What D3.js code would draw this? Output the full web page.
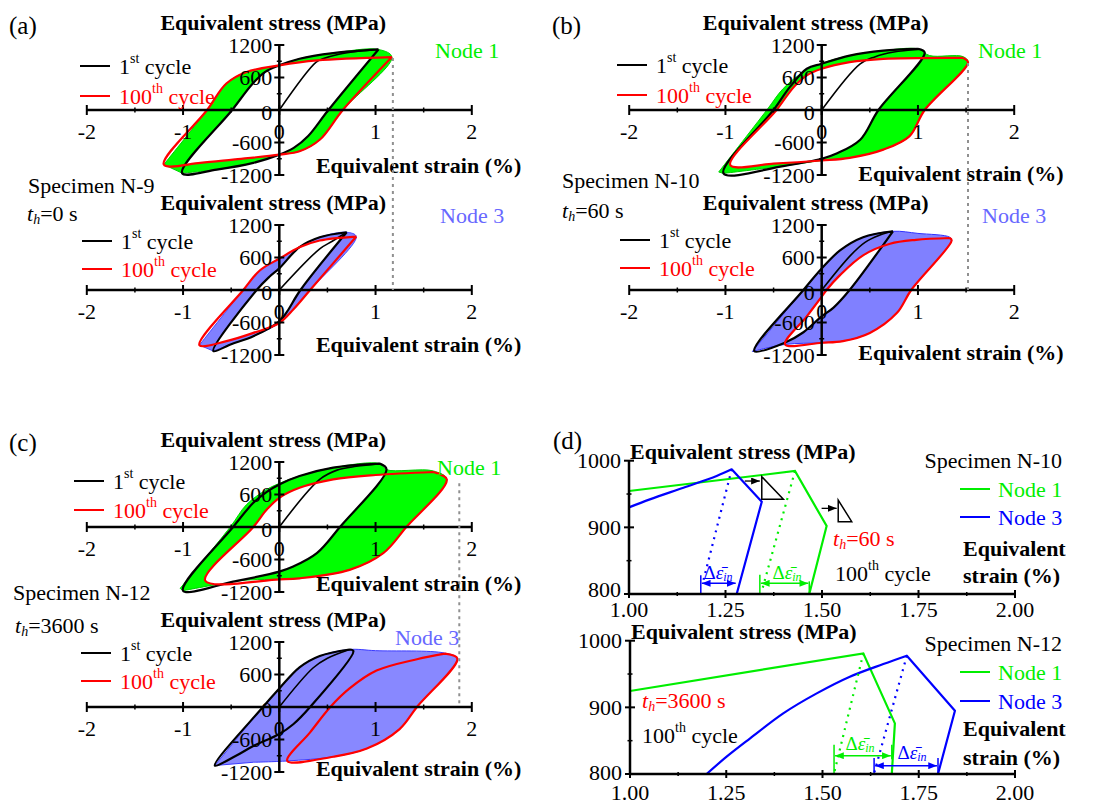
<!DOCTYPE html>
<html>
<head>
<meta charset="utf-8">
<title>Hysteresis loops</title>
<script src="https://cdn.jsdelivr.net/npm/d3@7"></script>
<style>
  body { margin: 0; background: #fff; }
</style>
</head>
<body>
<script>
// ---------- data: strain (%) / stress (MPa) ----------
var loopXTicks = [-2, -1, 0, 1, 2];
var loopYTicks = [-1200, -600, 0, 600, 1200];
var zoomXTicks = [1.00, 1.25, 1.50, 1.75, 2.00];
var zoomYTicks = [800, 900, 1000];

// (a) specimen N-9, node 1
var n9n1Load = [[0,0],[0.38,880],[0.46,950],[0.62,1030],[0.82,1085],[1.03,1118]];
var n9n1C1 = [[1.03,1118],[0.51,0],[0.30,-480],[0.15,-700],[0,-824],[-0.27,-977],[-0.65,-1100],[-1.01,-1165],
              [-0.49,0],[-0.28,480],[-0.15,700],[0,824],[0.21,947],[0.56,1050],[1.03,1118]];
var n9n1C100 = [[1.17,977],[0.66,0],[0.42,-550],[0.21,-763],[0,-824],[-0.48,-916],[-0.82,-977],[-1.2,-1008],
                [-0.75,0],[-0.55,489],[-0.34,702],[0,824],[0.39,916],[1.17,977]];
var n9n1Band = [[-1.2,-1008],[-0.75,0],[-0.55,489],[-0.34,702],[0,824],[0.21,947],[0.56,1050],[1.03,1118],
                [1.17,977],[0.66,0],[0.42,-550],[0.21,-763],[0,-824],[-0.27,-977],[-0.65,-1100],[-1.01,-1165]];

// (a) specimen N-9, node 3
var n9n3Load = [[0,0],[0.42,760],[0.55,900],[0.70,1066]];
var n9n3C1 = [[0.70,1066],[0.22,0],[0.08,-400],[0,-580],[-0.27,-853],[-0.5,-1000],[-0.685,-1127],
              [-0.235,0],[-0.1,250],[0,400],[0.21,792],[0.42,974],[0.70,1066]];
var n9n3C100 = [[0.80,987],[0.32,0],[0.15,-350],[0,-609],[-0.27,-792],[-0.55,-944],[-0.83,-1017],
                [-0.374,0],[-0.2,365],[0,579],[0.215,792],[0.42,914],[0.80,987]];
var n9n3Band = [[-0.83,-1017],[-0.374,0],[-0.2,365],[0,579],[0.215,792],[0.42,974],[0.70,1066],[0.80,987],
                [0.32,0],[0.15,-350],[0,-609],[-0.27,-853],[-0.5,-1000],[-0.685,-1127]];

// (b) specimen N-10, node 1
var n10n1Load = [[0,0],[0.40,853],[0.55,980],[0.75,1070],[1.0,1122]];
var n10n1C1 = [[1.0,1127],[1.07,1060],[0.59,0],[0.40,-548],[0.155,-804],[0,-901],[-0.4,-1035],[-1.02,-1170],
               [-0.5,0],[-0.33,426],[-0.155,761],[0,853],[0.29,1005],[0.64,1096],[1.0,1127]];
var n10n1C100 = [[1.47,962],[1.52,880],[1.07,0],[0.91,-487],[0.64,-731],[0.29,-883],[0,-932],[-0.5,-990],[-0.95,-1017],
                 [-0.47,0],[-0.29,426],[-0.155,640],[0,761],[0.29,883],[0.64,944],[1.47,962]];
var n10n1Band = [[-1.07,-1145],[-0.57,0],[-0.40,396],[-0.19,700],[0,860],[0.29,1005],[0.64,1096],[1.0,1127],
                 [1.12,1005],[1.47,985],[1.52,880],[1.07,0],[0.91,-487],[0.64,-731],[0.29,-883],[0,-932],
                 [-0.4,-1035],[-1.02,-1170]];

// (b) specimen N-10, node 3
var n10n3Load = [[0,0],[0.30,640],[0.45,880],[0.60,1010],[0.74,1084]];
var n10n3C1 = [[0.74,1084],[0.29,0],[0.12,-330],[0,-487],[-0.19,-780],[-0.38,-970],[-0.7,-1127],
               [-0.19,0],[0,396],[0.19,731],[0.43,974],[0.74,1084]];
var n10n3C100 = [[1.33,960],[1.35,915],[0.93,0],[0.78,-426],[0.5,-792],[0.22,-944],[0,-974],[-0.38,-1005],
                 [-0.155,-487],[0,-122],[0.05,0],[0.19,274],[0.43,640],[0.71,853],[0.98,926],[1.33,960]];
var n10n3Band = [[-0.72,-1135],[-0.19,0],[0,396],[0.19,731],[0.43,974],[0.74,1084],[1.0,1045],[1.33,975],
                 [1.35,915],[0.93,0],[0.78,-426],[0.5,-792],[0.22,-944],[0,-974],[-0.38,-1005],[-0.7,-1127]];

// (c) specimen N-12, node 1
var n12n1Load = [[0,0],[0.42,879],[0.6,1050],[0.8,1120],[1.045,1170]];
var n12n1C1 = [[1.045,1170],[1.114,1065],[0.63,0],[0.39,-483],[0.145,-730],[0,-823],[-0.48,-1009],[-1.0,-1176],
               [-0.48,0],[-0.27,446],[-0.13,650],[0,786],[0.21,941],[0.56,1096],[1.045,1170]];
var n12n1C100 = [[1.6,1015],[1.74,879],[1.32,0],[1.08,-483],[0.73,-792],[0.21,-947],[0,-966],[-0.77,-990],
                 [-0.27,0],[-0.13,322],[0,539],[0.21,724],[0.56,879],[1.0,960],[1.6,1015]];
var n12n1Band = [[-1.03,-1133],[-0.51,0],[-0.34,415],[-0.13,693],[0,805],[0.21,941],[0.56,1096],[1.045,1170],
                 [1.11,1060],[1.6,1035],[1.74,879],[1.32,0],[1.08,-483],[0.73,-792],[0.21,-947],[0,-966],
                 [-0.3,-975],[-0.48,-1009],[-1.0,-1176]];

// (c) specimen N-12, node 3
var n12n3Load = [[0,0],[0.35,720],[0.5,900],[0.73,1062]];
var n12n3C1 = [[0.73,1062],[0.77,1032],[0.32,0],[0.145,-318],[0,-498],[-0.27,-720],[-0.45,-900],[-0.67,-1080],
               [-0.17,0],[0,342],[0.21,732],[0.42,942],[0.73,1062]];
var n12n3C100 = [[1.72,984],[1.85,894],[1.43,0],[1.25,-408],[0.91,-768],[0.56,-918],[0.083,-996],
                 [0.32,-468],[0.53,0],[0.73,342],[1.01,672],[1.43,882],[1.72,984]];
var n12n3Band = [[-0.67,-1080],[-0.17,0],[0,342],[0.21,732],[0.42,942],[0.73,1062],[1.0,1040],[1.72,995],
                 [1.85,894],[1.43,0],[1.25,-408],[0.91,-768],[0.56,-918],[0.083,-996],[-0.27,-1020]];

// max strain guide lines (strain, stress where it starts on the upper plot)
var guideStrain = [1.18, 1.52, 1.87];
var guideStress = [960, 870, 810];

// (d) 100th cycle close-up, N-10
var d10Node1 = [[1.0,954.5],[1.43,984.5],[1.512,902],[1.467,800]];
var d10Node1Dot = [[1.43,984.5],[1.346,808.5]];
var d10Node3 = [[1.0,930],[1.054,942],[1.141,959.5],[1.227,977],[1.266,987],[1.344,938.5],[1.279,800]];
var d10Node3Dot = [[1.266,987],[1.193,821]];
var d10Node1Arrow = [1.339, 1.467, 816];
var d10Node3Arrow = [1.186, 1.279, 816];

// (d) 100th cycle close-up, N-12
var d12Node1 = [[1.0,924.5],[1.606,981],[1.688,876],[1.68,800]];
var d12Node1Dot = [[1.606,981],[1.53,801]];
var d12Node3 = [[1.199,800],[1.251,826],[1.312,853.5],[1.398,891],[1.485,921],[1.571,946],[1.658,965],
                [1.719,977.5],[1.844,895],[1.80,800]];
var d12Node3Dot = [[1.719,977.5],[1.634,801]];
var d12Node1Arrow = [1.53, 1.68, 827.5];
var d12Node3Arrow = [1.634, 1.80, 812.5];

// ---------- drawing ----------
var width = 1099, height = 805;
var GREEN = "#00ee00", BLUE = "#0000ff";
var FONT = "'Liberation Serif', Tinos, 'Times New Roman', 'DejaVu Serif', serif";

var svg = d3.select("body").append("svg")
    .attr("width", width)
    .attr("height", height)
    .attr("font-family", FONT);

var defs = svg.append("defs");
[["g", GREEN], ["b", BLUE], ["k", "#000"]].forEach(function (m) {
    defs.append("marker")
        .attr("id", "arr" + m[0])
        .attr("viewBox", "0 0 10 8")
        .attr("refX", 10).attr("refY", 4)
        .attr("markerWidth", 9).attr("markerHeight", 7)
        .attr("markerUnits", "userSpaceOnUse")
        .attr("orient", "auto-start-reverse")
        .append("path").attr("d", "M0,0L10,4L0,8Z").attr("fill", m[1]);
});

function label(g, x, y, str, opt) {
    opt = opt || {};
    return g.append("text")
        .attr("x", x).attr("y", y)
        .attr("dominant-baseline", "central")
        .attr("text-anchor", opt.anchor || "start")
        .attr("font-family", FONT)
        .attr("font-size", opt.size || 22)
        .attr("font-weight", opt.bold ? "bold" : "normal")
        .attr("fill", opt.color || "#000")
        .text(str);
}

// "1st cycle" style text
function supLabel(g, x, y, a, sup, b, color) {
    var t = label(g, x, y, "", {color: color});
    t.append("tspan").text(a);
    t.append("tspan").attr("font-size", 14).attr("dy", -8).text(sup);
    t.append("tspan").attr("dy", 8).text(b);
    return t;
}

// "t_h=60 s"
function thLabel(g, x, y, rest, color) {
    var t = label(g, x, y, "", {color: color});
    t.append("tspan").attr("font-style", "italic").text("t");
    t.append("tspan").attr("font-style", "italic").attr("font-size", 14).attr("dy", 6).text("h");
    t.append("tspan").attr("dy", -6).text(rest);
    return t;
}

function deltaLabel(g, x, y, color) {
    var t = label(g, x, y, "", {color: color, anchor: "middle", size: 19});
    t.append("tspan").text("\u0394");
    t.append("tspan").attr("font-style", "italic").text("\u03b5\u0304");
    t.append("tspan").attr("font-style", "italic").attr("font-size", 12).attr("dy", 5).text("in");
    return t;
}

var loopPlots = [
    {x0: 279.3, y0: 110, load: n9n1Load, c1: n9n1C1, c100: n9n1C100, band: n9n1Band, fill: "#00ff00", edge: "#00d000",
     node: "Node 1", nodeColor: GREEN, nodeX: 435, nodeY: 50, legX: 80, legY: [66, 96], strainDy: 55},
    {x0: 279.3, y0: 290, load: n9n3Load, c1: n9n3C1, c100: n9n3C100, band: n9n3Band, fill: "#8080ff", edge: "#4848ff",
     node: "Node 3", nodeColor: "#6868ff", nodeX: 440, nodeY: 215, legX: 82, legY: [241, 269], strainDy: 54},
    {x0: 821.7, y0: 110, load: n10n1Load, c1: n10n1C1, c100: n10n1C100, band: n10n1Band, fill: "#00ff00", edge: "#00d000",
     node: "Node 1", nodeColor: GREEN, nodeX: 978, nodeY: 50, legX: 617, legY: [65, 95], strainDy: 63},
    {x0: 821.7, y0: 290, load: n10n3Load, c1: n10n3C1, c100: n10n3C100, band: n10n3Band, fill: "#8080ff", edge: "#3030ff",
     node: "Node 3", nodeColor: "#6868ff", nodeX: 982, nodeY: 215, legX: 620, legY: [240, 268], strainDy: 62},
    {x0: 279.3, y0: 527, load: n12n1Load, c1: n12n1C1, c100: n12n1C100, band: n12n1Band, fill: "#00ff00", edge: "#00d000",
     node: "Node 1", nodeColor: GREEN, nodeX: 437, nodeY: 467, legX: 74, legY: [481, 510], strainDy: 56},
    {x0: 279.3, y0: 707, load: n12n3Load, c1: n12n3C1, c100: n12n3C100, band: n12n3Band, fill: "#8888ff", edge: "#3a3aff",
     node: "Node 3", nodeColor: "#6868ff", nodeX: 395, nodeY: 637, legX: 81, legY: [653, 681], strainDy: 61}
];

var scales = [];

loopPlots.forEach(function (p, i) {
    var g = svg.append("g");
    var x = d3.scaleLinear().domain([-2, 2]).range([p.x0 - 192.5, p.x0 + 192.5]);
    var y = d3.scaleLinear().domain([-1200, 1200]).range([p.y0 + 65, p.y0 - 65]);
    scales.push({x: x, y: y});
    var line = d3.line()
        .x(function (d) { return x(d[0]); })
        .y(function (d) { return y(d[1]); })
        .curve(d3.curveCatmullRom.alpha(0.5));

    // band swept by cycles 1..100
    g.append("path")
        .attr("d", line(p.band) + "Z")
        .attr("fill", p.fill)
        .attr("stroke", p.edge)
        .attr("stroke-width", 1);

    // region never left by any cycle -> white
    var cid = "clip" + i;
    g.append("clipPath").attr("id", cid)
        .append("path").attr("d", line(p.c1) + "Z");
    g.append("path")
        .attr("d", line(p.c100) + "Z")
        .attr("fill", "#fff")
        .attr("clip-path", "url(#" + cid + ")");

    g.append("path").attr("d", line(p.load))
        .attr("fill", "none").attr("stroke", "#000").attr("stroke-width", 1.6);
    g.append("path").attr("d", line(p.c1))
        .attr("fill", "none").attr("stroke", "#000").attr("stroke-width", 2.2).attr("stroke-linejoin", "round");
    g.append("path").attr("d", line(p.c100))
        .attr("fill", "none").attr("stroke", "#ff0000").attr("stroke-width", 2.2).attr("stroke-linejoin", "round");

    // axes through the origin
    var ax = g.append("g").attr("stroke", "#000");
    ax.append("line").attr("x1", x(-2)).attr("x2", x(2)).attr("y1", y(0)).attr("y2", y(0)).attr("stroke-width", 2.5);
    ax.append("line").attr("x1", x(0)).attr("x2", x(0)).attr("y1", y(-1200)).attr("y2", y(1200)).attr("stroke-width", 2.5);
    loopXTicks.forEach(function (t) {
        ax.append("line").attr("x1", x(t)).attr("x2", x(t)).attr("y1", y(0) - 5).attr("y2", y(0) + 5).attr("stroke-width", 2);
    });
    [-1.5, -0.5, 0.5, 1.5].forEach(function (t) {
        ax.append("line").attr("x1", x(t)).attr("x2", x(t)).attr("y1", y(0) - 2.5).attr("y2", y(0) + 2.5).attr("stroke-width", 1.5);
    });
    loopYTicks.forEach(function (t) {
        ax.append("line").attr("x1", x(0) - 5).attr("x2", x(0) + 5).attr("y1", y(t)).attr("y2", y(t)).attr("stroke-width", 2);
    });
    [-900, -300, 300, 900].forEach(function (t) {
        ax.append("line").attr("x1", x(0) - 2.5).attr("x2", x(0) + 2.5).attr("y1", y(t)).attr("y2", y(t)).attr("stroke-width", 1.5);
    });
    loopXTicks.forEach(function (t) {
        label(g, x(t), y(0) + 21, String(t), {anchor: "middle"});
    });
    loopYTicks.forEach(function (t) {
        label(g, x(0) - 7, y(t) + (t === 0 ? 2 : 0), String(t), {anchor: "end"});
    });

    label(g, x(0) - 6, p.y0 - 88, "Equivalent stress (MPa)", {anchor: "middle", bold: true});
    label(g, p.x0 + 242, p.y0 + p.strainDy, "Equivalent strain (%)", {anchor: "end", bold: true});
    label(g, p.nodeX, p.nodeY, p.node, {color: p.nodeColor});

    // legend
    g.append("line").attr("x1", p.legX).attr("x2", p.legX + 30).attr("y1", p.legY[0]).attr("y2", p.legY[0])
        .attr("stroke", "#000").attr("stroke-width", 2);
    g.append("line").attr("x1", p.legX).attr("x2", p.legX + 30).attr("y1", p.legY[1]).attr("y2", p.legY[1])
        .attr("stroke", "#ff0000").attr("stroke-width", 2);
    supLabel(g, p.legX + 39, p.legY[0], "1", "st", " cycle", "#000");
    supLabel(g, p.legX + 39, p.legY[1], "100", "th", " cycle", "#ff0000");
});

// dashed guide lines for the max strain of the 100th cycle
guideStrain.forEach(function (s, k) {
    var top = scales[2 * k], bot = scales[2 * k + 1];
    svg.append("line")
        .attr("x1", top.x(s)).attr("x2", top.x(s))
        .attr("y1", top.y(guideStress[k])).attr("y2", bot.y(0))
        .attr("stroke", "#909090").attr("stroke-width", 2).attr("stroke-dasharray", "3,4");
});

// panel letters and specimen notes
label(svg, 9, 25, "(a)", {size: 25});
label(svg, 552, 25, "(b)", {size: 25});
label(svg, 9, 442, "(c)", {size: 25});
label(svg, 553, 440, "(d)", {size: 25});
label(svg, 28, 185, "Specimen N-9");
thLabel(svg, 27, 213, "=0 s", "#000");
label(svg, 562, 180, "Specimen N-10");
thLabel(svg, 562, 210, "=60 s", "#000");
label(svg, 13, 592, "Specimen N-12");
thLabel(svg, 15, 625, "=3600 s", "#000");

// ---------- panel (d) ----------
var zoomPlots = [
    {x0: 629, x1: 1015, yb: 594, yt: 460.7, n1: d10Node1, n1d: d10Node1Dot, n3: d10Node3, n3d: d10Node3Dot,
     a1: d10Node1Arrow, a3: d10Node3Arrow, spec: "Specimen N-10", specY: 460, legY: [489, 517],
     th: "=60 s", thX: 833, thY: 538, cyX: 835, cyY: 573, eqY: [548, 575], tickDy: 15, lowDy: 5,
     bars: [[1.186, 801, 828], [1.339, 801, 829], [1.467, 801, 819]],
     d3x: 718, d1x: 787, dy3: 572, dy1: 572},
    {x0: 630, x1: 1015, yb: 774, yt: 640.7, n1: d12Node1, n1d: d12Node1Dot, n3: d12Node3, n3d: d12Node3Dot,
     a1: d12Node1Arrow, a3: d12Node3Arrow, spec: "Specimen N-12", specY: 643, legY: [672, 701],
     th: "=3600 s", thX: 642, thY: 700, cyX: 642, cyY: 735, eqY: [728, 757], tickDy: 18, lowDy: 2,
     bars: [[1.53, 801, 844], [1.68, 822, 844], [1.634, 801, 824], [1.80, 801, 824]],
     d3x: 912, d1x: 860, dy3: 752, dy1: 743}
];

function peakSplit(arr) {
    var k = d3.maxIndex(arr, function (d) { return d[1]; });
    return [arr.slice(0, k + 1), arr.slice(k)];
}

zoomPlots.forEach(function (p, i) {
    var g = svg.append("g");
    var x = d3.scaleLinear().domain([1, 2]).range([p.x0, p.x1]);
    var y = d3.scaleLinear().domain([800, 1000]).range([p.yb, p.yt]);
    var line = d3.line().x(function (d) { return x(d[0]); }).y(function (d) { return y(d[1]); });
    var smooth = d3.line().x(function (d) { return x(d[0]); }).y(function (d) { return y(d[1]); })
        .curve(d3.curveCatmullRom.alpha(0.5));

    g.append("path").attr("d", line(p.n1)).attr("fill", "none").attr("stroke", GREEN).attr("stroke-width", 2.2);
    var parts = peakSplit(p.n3);
    g.append("path").attr("d", smooth(parts[0]) + line(parts[1]).replace(/^M/, "L"))
        .attr("fill", "none").attr("stroke", BLUE).attr("stroke-width", 2.2).attr("stroke-linejoin", "round");
    g.append("path").attr("d", line(p.n1d)).attr("fill", "none").attr("stroke", GREEN).attr("stroke-width", 2.2)
        .attr("stroke-dasharray", "2,5");
    g.append("path").attr("d", line(p.n3d)).attr("fill", "none").attr("stroke", BLUE).attr("stroke-width", 2.2)
        .attr("stroke-dasharray", "2,5");

    // inelastic strain range arrows
    [[p.a1, GREEN, "g"], [p.a3, BLUE, "b"]].forEach(function (a) {
        g.append("line")
            .attr("x1", x(a[0][0]) + 1).attr("x2", x(a[0][1]) - 1)
            .attr("y1", y(a[0][2])).attr("y2", y(a[0][2]))
            .attr("stroke", a[1]).attr("stroke-width", 1.5)
            .attr("marker-start", "url(#arr" + a[2] + ")")
            .attr("marker-end", "url(#arr" + a[2] + ")");
    });
    p.bars.forEach(function (b, k) {
        var c = (i === 0) ? (k === 0 ? BLUE : GREEN) : (k < 2 ? GREEN : BLUE);
        g.append("line").attr("x1", x(b[0])).attr("x2", x(b[0])).attr("y1", y(b[1])).attr("y2", y(b[2]))
            .attr("stroke", c).attr("stroke-width", 1.5);
    });
    deltaLabel(g, p.d3x, p.dy3, BLUE);
    deltaLabel(g, p.d1x, p.dy1, GREEN);

    // axes
    var ax = g.append("g").attr("stroke", "#000");
    ax.append("line").attr("x1", x(1)).attr("x2", x(2)).attr("y1", y(800)).attr("y2", y(800)).attr("stroke-width", 2.5);
    ax.append("line").attr("x1", x(1)).attr("x2", x(1)).attr("y1", y(800)).attr("y2", y(1000)).attr("stroke-width", 2.5);
    zoomXTicks.forEach(function (t) {
        ax.append("line").attr("x1", x(t)).attr("x2", x(t)).attr("y1", y(800) - 4).attr("y2", y(800) + 4).attr("stroke-width", 2);
    });
    [1.125, 1.375, 1.625, 1.875].forEach(function (t) {
        ax.append("line").attr("x1", x(t)).attr("x2", x(t)).attr("y1", y(800) - 2).attr("y2", y(800) + 2).attr("stroke-width", 1.5);
    });
    zoomYTicks.forEach(function (t) {
        ax.append("line").attr("x1", x(1) - 5).attr("x2", x(1) + 5).attr("y1", y(t)).attr("y2", y(t)).attr("stroke-width", 2);
    });
    [850, 950].forEach(function (t) {
        ax.append("line").attr("x1", x(1) - 2.5).attr("x2", x(1) + 2.5).attr("y1", y(t)).attr("y2", y(t)).attr("stroke-width", 1.5);
    });
    zoomXTicks.forEach(function (t) {
        label(g, x(t), y(800) + p.tickDy, d3.format(".2f")(t), {anchor: "middle"});
    });
    zoomYTicks.forEach(function (t) {
        label(g, x(1) - 8, y(t) - (t === 800 ? p.lowDy : 0), String(t), {anchor: "end"});
    });

    label(g, x(1) + 1, y(1000) - 9, "Equivalent stress (MPa)", {bold: true});
    label(g, 1062, p.specY, p.spec, {anchor: "end"});
    g.append("line").attr("x1", 960).attr("x2", 990).attr("y1", p.legY[0]).attr("y2", p.legY[0])
        .attr("stroke", GREEN).attr("stroke-width", 2);
    g.append("line").attr("x1", 960).attr("x2", 990).attr("y1", p.legY[1]).attr("y2", p.legY[1])
        .attr("stroke", BLUE).attr("stroke-width", 2);
    label(g, 998, p.legY[0], "Node 1", {color: GREEN});
    label(g, 998, p.legY[1], "Node 3", {color: BLUE});
    thLabel(g, p.thX, p.thY, p.th, "#ff0000");
    supLabel(g, p.cyX, p.cyY, "100", "th", " cycle", "#000");
    label(g, 963, p.eqY[0], "Equivalent", {bold: true});
    label(g, 963, p.eqY[1], "strain (%)", {bold: true});
});

// small unloading-relaxation triangles on the N-10 close-up
var tx = d3.scaleLinear().domain([1, 2]).range([629, 1015]);
var ty = d3.scaleLinear().domain([800, 1000]).range([594, 460.7]);
var triangles = [[1.344, 1.40, 976, 942], [1.542, 1.577, 941, 908.5]];
var triArrows = [[1.30, 1.339, 969.5], [1.499, 1.538, 928.5]];
triangles.forEach(function (t) {
    svg.append("path")
        .attr("d", "M" + tx(t[0]) + "," + ty(t[2]) + "L" + tx(t[0]) + "," + ty(t[3]) + "L" + tx(t[1]) + "," + ty(t[3]) + "Z")
        .attr("fill", "#fff").attr("stroke", "#000").attr("stroke-width", 1.5);
});
triArrows.forEach(function (a) {
    svg.append("line").attr("x1", tx(a[0])).attr("x2", tx(a[1])).attr("y1", ty(a[2])).attr("y2", ty(a[2]))
        .attr("stroke", "#000").attr("stroke-width", 1.3).attr("marker-end", "url(#arrk)");
});
</script>
</body>
</html>
